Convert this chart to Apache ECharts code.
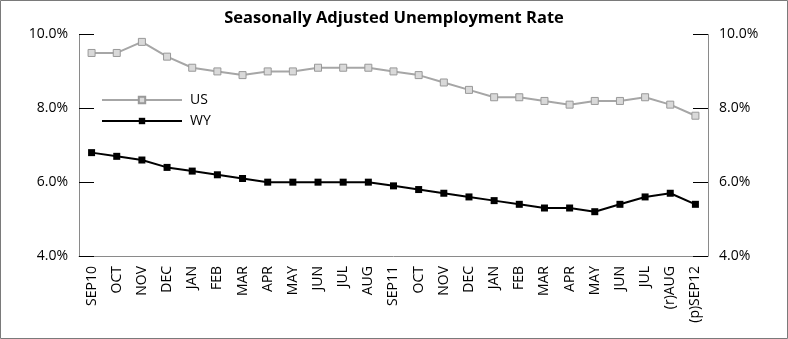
<!DOCTYPE html>
<html><head><meta charset="utf-8">
<script src="https://cdn.jsdelivr.net/npm/echarts@6/dist/echarts.min.js"></script>
<style>html,body{margin:0;padding:0;background:#fff}#c{width:788px;height:339px}</style>
</head><body><div id="c"></div>
<script>
const categories = ['SEP10','OCT','NOV','DEC','JAN','FEB','MAR','APR','MAY','JUN','JUL','AUG','SEP11','OCT','NOV','DEC','JAN','FEB','MAR','APR','MAY','JUN','JUL','(r)AUG','(p)SEP12'];
const usValues = [9.5,9.5,9.8,9.4,9.1,9.0,8.9,9.0,9.0,9.1,9.1,9.1,9.0,8.9,8.7,8.5,8.3,8.3,8.2,8.1,8.2,8.2,8.3,8.1,7.8];
const wyValues = [6.8,6.7,6.6,6.4,6.3,6.2,6.1,6.0,6.0,6.0,6.0,6.0,5.9,5.8,5.7,5.6,5.5,5.4,5.3,5.3,5.2,5.4,5.6,5.7,5.4];
const yMin = 4, yMax = 10, yStep = 2;

const FONT = '"Open Sans", sans-serif';
const chart = echarts.init(document.getElementById('c'), null, {renderer:'canvas'});
function yAxisCfg(pos){
  return {
    type:'value', position:pos, min:yMin, max:yMax, interval:yStep,
    axisLine:{show:true, lineStyle:{color:'#8a8a8a', width:1}},
    axisTick:{show:true, inside:true, length:15, lineStyle:{color:'#000', width:1}},
    splitLine:{show:false},
    axisLabel:{color:'#000', fontSize:14, fontFamily:FONT, margin:11, padding:[6,0,0,0],
      formatter:v=>v.toFixed(1)+'%'}
  };
}
chart.setOption({
  animation:false,
  title:{text:'Seasonally Adjusted Unemployment Rate', left:'center', top:5,
    textStyle:{fontFamily:FONT, fontWeight:'bold', fontSize:16.5, color:'#000'}},
  graphic:[{type:'rect', shape:{x:0.5,y:0.5,width:787,height:338}, style:{fill:'none', stroke:'#7a7a7a', lineWidth:1}, silent:true}],
  legend:{left:101, top:93, orient:'vertical', padding:0, itemWidth:80, itemHeight:8, itemGap:7,
    textStyle:{fontFamily:FONT, fontSize:14, color:'#000', padding:[0,0,0,3]},
    data:['US','WY']},
  grid:{left:79, right:80, top:34.5, bottom:83, containLabel:false},
  xAxis:{type:'category', data:categories, boundaryGap:true,
    axisLine:{lineStyle:{color:'#8a8a8a'}},
    axisTick:{inside:true, length:6, lineStyle:{color:'#333'}},
    axisLabel:{rotate:90, interval:0, color:'#000', fontSize:14, fontFamily:FONT, margin:10}},
  yAxis:[yAxisCfg('left'), yAxisCfg('right')],
  series:[
    {name:'US', type:'line', data:usValues, yAxisIndex:0, symbol:'rect', symbolSize:7,
      lineStyle:{color:'#a6a6a6', width:2}, itemStyle:{color:'#d9d9d9', borderColor:'#999', borderWidth:1}},
    {name:'WY', type:'line', data:wyValues, yAxisIndex:0, symbol:'rect', symbolSize:7,
      lineStyle:{color:'#000', width:2}, itemStyle:{color:'#000'}}
  ]
});
</script></body></html>
